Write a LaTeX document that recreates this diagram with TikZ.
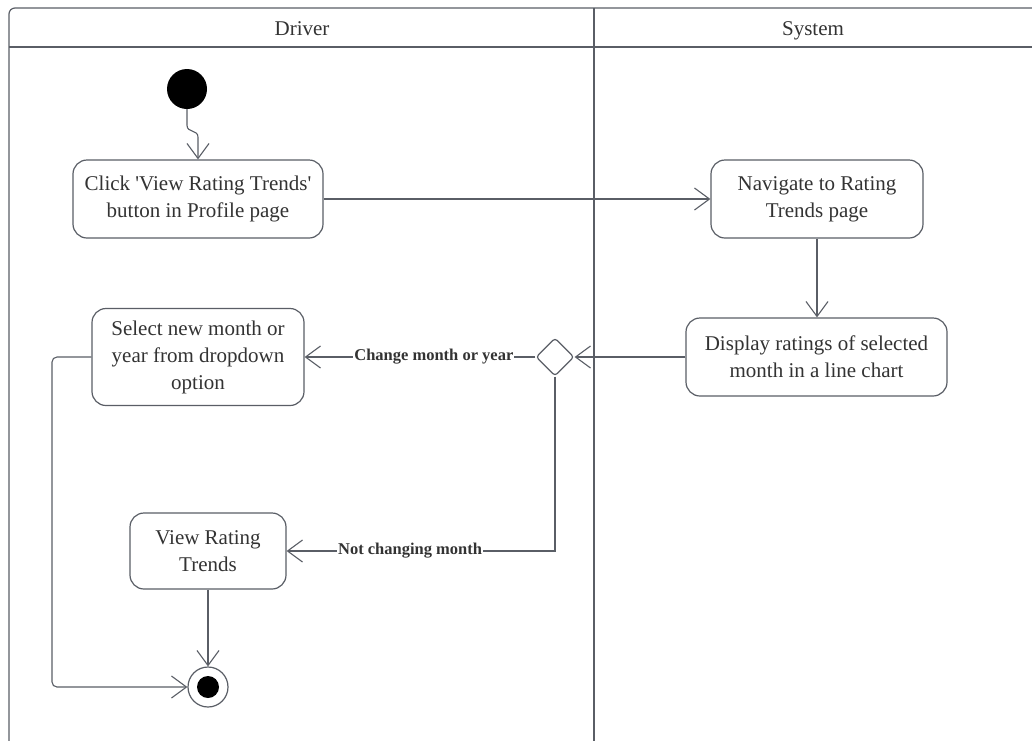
\documentclass[tikz,border=0pt]{standalone}
\usepackage{fontspec}
\setmainfont{Liberation Serif}
\usetikzlibrary{arrows.meta,shapes.geometric}
\definecolor{ln}{HTML}{5A5E66}
\definecolor{tx}{HTML}{333333}
\begin{document}
\begin{tikzpicture}[x=1pt,y=-1pt,
 act/.style={draw=ln,line width=1.2pt,rounded corners=14pt,align=center,text=tx,font=\fontsize{21}{27}\selectfont,inner sep=0pt},
 flow/.style={draw=ln,line width=1.1pt,-{Straight Barb[length=15pt,width=22pt,line width=1.1pt]}},
 lbl/.style={fill=white,text=tx,font=\bfseries\fontsize{16.5}{18}\selectfont,inner sep=1pt},
 lane/.style={text=tx,font=\fontsize{21}{24}\selectfont,anchor=base}]
\useasboundingbox (0,0) rectangle (1032,740);
\fill[white] (0,0) rectangle (1032,740);
\draw[ln,line width=1.2pt,rounded corners=6pt] (9,745) -- (9,8) -- (1040,8);
\draw[ln,line width=1.2pt] (9,47) -- (1040,47);
\draw[ln,line width=1.2pt] (594,8) -- (594,745);
\node[lane] (ldriver) at (302,35) {Driver};
\node[lane] (lsystem) at (813,35) {System};

\node[circle,fill=black,minimum size=40pt,inner sep=0pt] (start) at (187,89) {};
\node[act,minimum width=250pt,minimum height=78pt] (click) at (198,199) {Click \textquotesingle View Rating Trends\textquotesingle\\button in Profile page};
\node[act,minimum width=212pt,minimum height=78pt] (nav) at (817,199) {Navigate to Rating\\Trends page};
\node[act,minimum width=261pt,minimum height=78pt] (disp) at (816.5,357) {Display ratings of selected\\month in a line chart};
\node[diamond,draw=ln,line width=1.2pt,minimum size=38pt,inner sep=0pt,rounded corners=3pt] (dec) at (555,357) {};
\node[act,minimum width=212pt,minimum height=97pt] (sel) at (198,357) {Select new month or\\year from dropdown\\option};
\node[act,minimum width=156pt,minimum height=76pt] (view) at (208,551) {View Rating\\Trends};
\node[circle,draw=ln,line width=1.2pt,minimum size=40pt,inner sep=0pt] (end) at (208,687) {};
\fill[black] (end.center) circle (11pt);

\draw[flow] (start.south) -- ++(0,16) .. controls +(0,8) and +(0,-8) .. ++(11,12) -- (click.north);
\draw[flow] (click.east) -- (nav.west);
\draw[flow] (nav.south) -- (nav.south |- disp.north);
\draw[flow] (disp.west) -- (dec.east);
\draw[flow] (dec.west) -- node[lbl,pos=0.44]{Change month or year} (sel.east);
\draw[flow] (dec.south) |- node[lbl,pos=0.77]{Not changing month} (view.east);
\draw[flow] (view.south) -- (end.north);
\draw[flow,rounded corners=5pt] (sel.west) -- (52,357) -- (52,687) -- (end.west);
\end{tikzpicture}
\end{document}
